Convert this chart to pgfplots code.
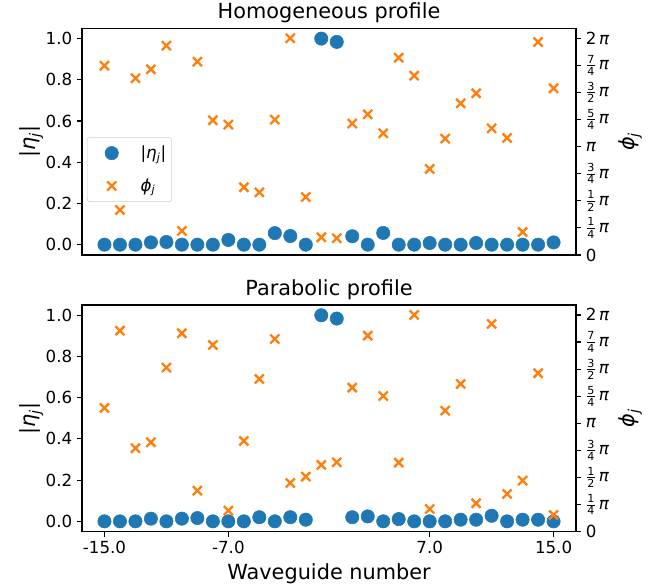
\documentclass[border=0pt]{standalone}
\usepackage{pgfplots}
\pgfplotsset{compat=1.18}
\usepackage{pgfplotstable}
\usepackage{amsmath}
\usepackage{fontspec}
\setmainfont{DejaVu Sans}

\definecolor{c0}{HTML}{1F77B4}
\definecolor{c1}{HTML}{FF7F0E}
\newcommand{\pifr}[2]{$\frac{\text{#1}}{\text{#2}}$\,\textit{π}}

% i = position (waveguides -15..-1, 1..15), eta = |eta_j|, phi = phi_j / pi
\pgfplotstableread{
i eta phi
0 0 1.747
1 0 0.415
2 0 1.631
3 0.011 1.714
4 0.013 1.932
5 0 0.222
6 0 1.784
7 0 1.243
8 0.023 1.203
9 0 0.625
10 0 0.578
11 0.056 1.249
12 0.042 2.0
13 0 0.535
14 1.0 0.163
15 0.984 0.154
16 0.041 1.213
17 0 1.298
18 0.057 1.123
19 0 1.821
20 0 1.655
21 0.008 0.794
22 0 1.074
23 0 1.400
24 0.008 1.492
25 0 1.169
26 0 1.080
27 0 0.212
28 0 1.966
29 0.011 1.538
}\homog

\pgfplotstableread{
i eta phi
0 0 1.142
1 0 1.855
2 0 0.770
3 0.013 0.825
4 0 1.514
5 0.013 1.831
6 0.016 0.378
7 0 1.723
8 0 0.194
9 0 0.837
10 0.02 1.409
11 0 1.778
12 0.02 0.449
13 0.008 0.508
14 1.0 0.616
15 0.984 0.640
16 0.02 1.329
17 0.024 1.809
18 0 1.252
19 0.011 0.637
20 0 2.0
21 0 0.209
22 0 1.117
23 0.008 1.363
24 0.008 0.262
25 0.027 1.917
26 0 0.348
27 0.008 0.471
28 0.008 1.462
29 0 0.154
}\parab

\pgfplotsset{
  panel/.style={
    scale only axis, width=355.7pt, height=163.2pt,
    xmin=-1.45, xmax=30.45,
    tick align=outside, major tick length=3.5pt,
    every tick/.style={black, line width=0.8pt},
    axis line style={line width=0.8pt},
    tick label style={font=\fontsize{12}{14}\selectfont},
    label style={font=\fontsize{15}{18}\selectfont},
    title style={font=\fontsize{15}{18}\selectfont, yshift=-5.5pt},
    /pgf/number format/assume math mode=true,
  },
  lefty/.style={panel, ymin=-0.05, ymax=1.05, ytick={0,0.2,0.4,0.6,0.8,1.0}, ytick pos=left,
    yticklabel style={/pgf/number format/fixed, /pgf/number format/fixed zerofill, /pgf/number format/precision=1},
    ylabel={|\textit{η}\textsubscript{\textit{j}}|}, ylabel shift=-5pt},
  righty/.style={panel, axis y line*=right, axis x line=none, ymin=0, ymax=2.092,
    ytick={0,0.25,0.5,0.75,1,1.25,1.5,1.75,2},
    yticklabels={0, \pifr14, \pifr12, \pifr34, \textit{π}, \pifr54, \pifr32, \pifr74, 2\,\textit{π}},
    ylabel={\textit{ϕ}\textsubscript{\textit{j}}}},
  dots/.style={only marks, mark=*, mark size=4.8pt, c0, mark options={draw=c0, fill=c0}},
  crosses/.style={only marks, mark=x, mark size=4.6pt, c1, line width=1.7pt},
}

\begin{document}
\begin{tikzpicture}
\begin{axis}[lefty, at={(0,0)}, anchor=north west, xtick=\empty,
  title={Homogeneous profile},
  legend image code/.code={\path[draw=none, fill=none] (-0.55cm,0cm) rectangle (0.66cm,0.01cm);
    \draw[#1] plot coordinates {(0cm,0cm)};},
  legend style={at={(0.01,0.52)}, anchor=north west, draw=black!20, rounded corners=2pt,
    font=\fontsize{12}{14}\selectfont, row sep=9pt, inner ysep=4pt, inner xsep=2pt},
  legend cell align=left]
\addplot[dots] table[x=i, y=eta] {\homog};
\addlegendentry{|\textit{η}\textsubscript{\textit{j}}|}
\addlegendimage{crosses}
\addlegendentry{\textit{ϕ}\textsubscript{\textit{j}}}
\end{axis}
\begin{axis}[righty, at={(0,0)}, anchor=north west]
\addplot[crosses] table[x=i, y=phi] {\homog};
\end{axis}

\begin{axis}[lefty, at={(0,-199.2pt)}, anchor=north west,
  xtick={0,8,21,29}, xticklabels={-15.0,-7.0,7.0,15.0}, xtick pos=left,
  xlabel={Waveguide number}, title={Parabolic profile}]
\addplot[dots] table[x=i, y=eta] {\parab};
\end{axis}
\begin{axis}[righty, at={(0,-199.2pt)}, anchor=north west]
\addplot[crosses] table[x=i, y=phi] {\parab};
\end{axis}

\pgfresetboundingbox
\path (-59.04pt,20.38pt) rectangle (421.92pt,-402.26pt);
\end{tikzpicture}
\end{document}
